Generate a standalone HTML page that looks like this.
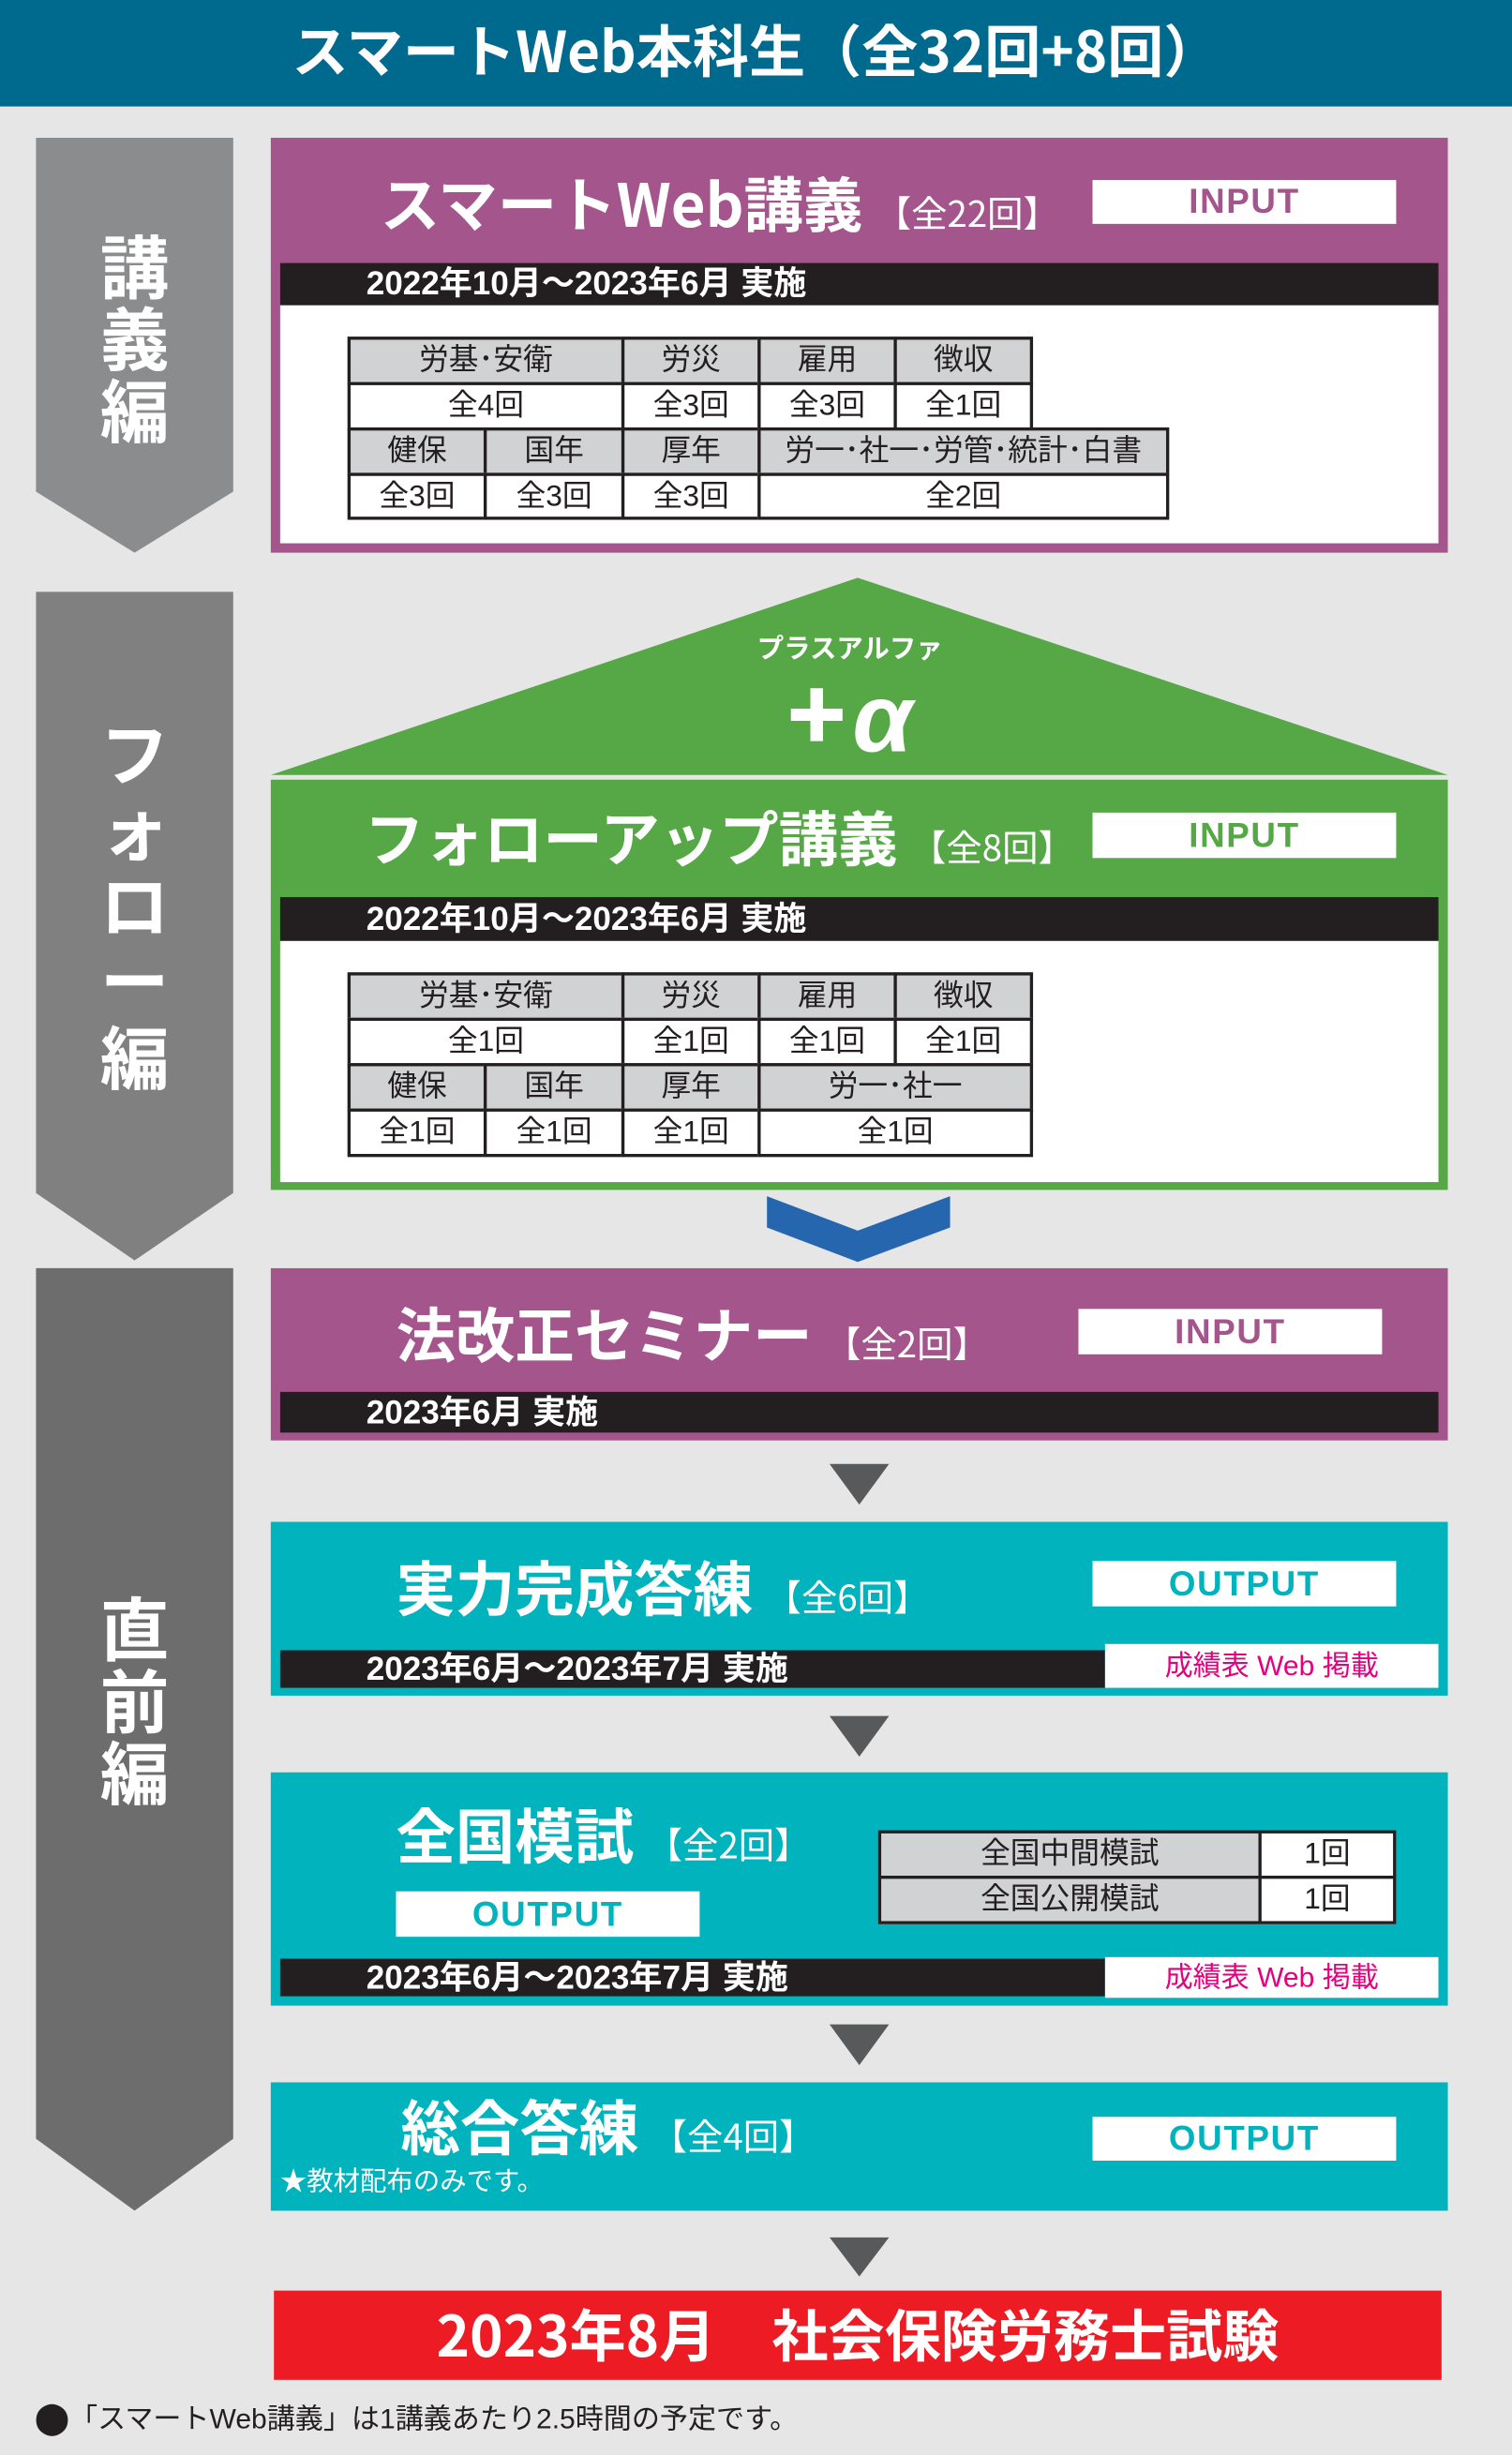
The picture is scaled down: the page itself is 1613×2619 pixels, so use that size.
<!DOCTYPE html>
<html><head><meta charset="utf-8">
<style>
html,body{margin:0;padding:0;}
body{width:1613px;height:2619px;overflow:hidden;background:#e6e6e6;font-family:"Liberation Sans","Noto Sans CJK JP",sans-serif;}
#w{position:absolute;left:0;top:0;width:966px;height:1568px;transform:scale(1.66977,1.67028);transform-origin:0 0;}
.a{position:absolute;}
.c{position:absolute;box-sizing:border-box;border:2px solid #231f20;display:flex;align-items:center;justify-content:center;font-size:19px;color:#231f20;white-space:nowrap;line-height:1;}
.g{background:#d1d2d4;}.wh{background:#fff;}
.ttl{position:absolute;color:#fff;font-weight:bold;white-space:nowrap;line-height:1;font-family:"Noto Sans CJK JP",sans-serif;}
.ttl small{font-size:23px;font-weight:normal;margin-left:8px;}
.tag{position:absolute;background:#fff;display:flex;align-items:center;justify-content:center;font-weight:bold;font-size:22px;line-height:1;letter-spacing:1px;}
.bar{position:absolute;background:#231f20;color:#fff;font-weight:bold;font-size:21px;line-height:1;display:flex;align-items:center;white-space:nowrap;}
.pk{position:absolute;background:#fff;color:#e5007f;font-size:18px;display:flex;align-items:center;justify-content:center;line-height:1;}
.vt{position:absolute;color:#fff;font-weight:bold;font-size:44px;line-height:1.05;width:60px;text-align:center;font-family:"Noto Sans CJK JP",sans-serif;}
</style></head><body><div id="w">
<div class="a" style="left:0;top:0;width:966px;height:68px;background:#006a8e;"></div>
<div class="ttl" style="left:0;width:966px;top:13px;text-align:center;font-size:36px;">スマートWeb本科生（全32回+8回）</div>

<svg class="a" style="left:0;top:0" width="966" height="1568">
<polygon points="23,88 149,88 149,314 86,353 23,314" fill="#8b8c8e"/>
<polygon points="23,378 149,378 149,762 86,805 23,762" fill="#808080"/>
<polygon points="23,810 149,810 149,1366 86,1412 23,1366" fill="#6d6d6d"/>
<polygon points="173,495 548,369 925,495" fill="#55a845"/>
<polygon points="490,764 548,786 607,764 607,784 548,806 490,784" fill="#2566ae"/>
<polygon points="530,935 568,935 549,961" fill="#58595b"/>
<polygon points="530,1096 568,1096 549,1122" fill="#58595b"/>
<polygon points="530,1293 568,1293 549,1319" fill="#58595b"/>
<polygon points="530,1429 568,1429 549,1454" fill="#58595b"/>
</svg>
<div class="vt" style="left:56px;top:145px;">講<br>義<br>編</div>
<div class="vt" style="left:56px;top:455px;line-height:1.1;">フ<br>ォ<br>ロ<br>ー<br>編</div>
<div class="vt" style="left:56px;top:1015px;">直<br>前<br>編</div>

<div class="a" style="left:173px;top:88px;width:752px;height:265px;background:#a3558c;"></div>
<div class="ttl" style="left:243px;top:110px;font-size:38px;">スマートWeb講義<small>【全22回】</small></div>
<div class="tag" style="left:698px;top:115px;width:194px;height:28px;color:#a3558c;">INPUT</div>
<div class="bar" style="left:179px;top:168px;width:740px;height:27px;"><span style="margin-left:55px">2022年10月～2023年6月 実施</span></div>
<div class="a" style="left:179px;top:195px;width:740px;height:152px;background:#fff;"></div>
<div class="c g" style="left:222px;top:215px;width:177px;height:31px;">労基･安衛</div>
<div class="c g" style="left:397px;top:215px;width:89px;height:31px;">労災</div>
<div class="c g" style="left:484px;top:215px;width:89px;height:31px;">雇用</div>
<div class="c g" style="left:571px;top:215px;width:89px;height:31px;">徴収</div>
<div class="c wh" style="left:222px;top:244px;width:177px;height:31px;">全4回</div>
<div class="c wh" style="left:397px;top:244px;width:89px;height:31px;">全3回</div>
<div class="c wh" style="left:484px;top:244px;width:89px;height:31px;">全3回</div>
<div class="c wh" style="left:571px;top:244px;width:89px;height:31px;">全1回</div>
<div class="c g" style="left:222px;top:273px;width:89px;height:31px;">健保</div>
<div class="c g" style="left:309px;top:273px;width:90px;height:31px;">国年</div>
<div class="c g" style="left:397px;top:273px;width:89px;height:31px;">厚年</div>
<div class="c g" style="left:484px;top:273px;width:263px;height:31px;">労一･社一･労管･統計･白書</div>
<div class="c wh" style="left:222px;top:302px;width:89px;height:30px;">全3回</div>
<div class="c wh" style="left:309px;top:302px;width:90px;height:30px;">全3回</div>
<div class="c wh" style="left:397px;top:302px;width:89px;height:30px;">全3回</div>
<div class="c wh" style="left:484px;top:302px;width:263px;height:30px;">全2回</div>

<div class="ttl" style="left:443px;width:200px;text-align:center;top:404px;font-size:17px;">プラスアルファ</div>
<div class="ttl" style="left:443px;width:200px;text-align:center;top:422px;font-size:62px;"><span style="font-weight:900;">+</span><span style="font-style:italic;font-family:'Liberation Sans',sans-serif;margin-left:4px;">α</span></div>

<div class="a" style="left:173px;top:498px;width:752px;height:262px;background:#55a845;"></div>
<div class="ttl" style="left:233px;top:515px;font-size:38px;">フォローアップ講義<small>【全8回】</small></div>
<div class="tag" style="left:698px;top:519px;width:194px;height:29px;color:#55a845;">INPUT</div>
<div class="bar" style="left:179px;top:573px;width:740px;height:28px;"><span style="margin-left:55px">2022年10月～2023年6月 実施</span></div>
<div class="a" style="left:179px;top:601px;width:740px;height:154px;background:#fff;"></div>
<div class="c g" style="left:222px;top:621px;width:177px;height:31px;">労基･安衛</div>
<div class="c g" style="left:397px;top:621px;width:89px;height:31px;">労災</div>
<div class="c g" style="left:484px;top:621px;width:89px;height:31px;">雇用</div>
<div class="c g" style="left:571px;top:621px;width:89px;height:31px;">徴収</div>
<div class="c wh" style="left:222px;top:650px;width:177px;height:31px;">全1回</div>
<div class="c wh" style="left:397px;top:650px;width:89px;height:31px;">全1回</div>
<div class="c wh" style="left:484px;top:650px;width:89px;height:31px;">全1回</div>
<div class="c wh" style="left:571px;top:650px;width:89px;height:31px;">全1回</div>
<div class="c g" style="left:222px;top:679px;width:89px;height:31px;">健保</div>
<div class="c g" style="left:309px;top:679px;width:90px;height:31px;">国年</div>
<div class="c g" style="left:397px;top:679px;width:89px;height:31px;">厚年</div>
<div class="c g" style="left:484px;top:679px;width:176px;height:31px;">労一･社一</div>
<div class="c wh" style="left:222px;top:708px;width:89px;height:31px;">全1回</div>
<div class="c wh" style="left:309px;top:708px;width:90px;height:31px;">全1回</div>
<div class="c wh" style="left:397px;top:708px;width:89px;height:31px;">全1回</div>
<div class="c wh" style="left:484px;top:708px;width:176px;height:31px;">全1回</div>

<div class="a" style="left:173px;top:810px;width:752px;height:110px;background:#a3558c;"></div>
<div class="ttl" style="left:253px;top:832px;font-size:38px;">法改正セミナー<small>【全2回】</small></div>
<div class="tag" style="left:689px;top:836px;width:194px;height:29px;color:#a3558c;">INPUT</div>
<div class="bar" style="left:179px;top:889px;width:740px;height:26px;"><span style="margin-left:55px">2023年6月 実施</span></div>

<div class="a" style="left:173px;top:972px;width:752px;height:111px;background:#00b3bd;"></div>
<div class="ttl" style="left:253px;top:994px;font-size:38px;">実力完成答練<small>【全6回】</small></div>
<div class="tag" style="left:698px;top:997px;width:194px;height:29px;color:#00b3bd;">OUTPUT</div>
<div class="bar" style="left:179px;top:1054px;width:527px;height:24px;"><span style="margin-left:55px">2023年6月～2023年7月 実施</span></div>
<div class="pk" style="left:706px;top:1050px;width:213px;height:28px;">成績表 Web 掲載</div>

<div class="a" style="left:173px;top:1132px;width:752px;height:149px;background:#00b3bd;"></div>
<div class="ttl" style="left:253px;top:1152px;font-size:38px;">全国模試<small>【全2回】</small></div>
<div class="tag" style="left:253px;top:1208px;width:194px;height:29px;color:#00b3bd;">OUTPUT</div>
<div class="c g" style="left:561px;top:1169px;width:245px;height:31px;">全国中間模試</div>
<div class="c wh" style="left:804px;top:1169px;width:88px;height:31px;">1回</div>
<div class="c g" style="left:561px;top:1198px;width:245px;height:31px;">全国公開模試</div>
<div class="c wh" style="left:804px;top:1198px;width:88px;height:31px;">1回</div>
<div class="bar" style="left:179px;top:1251px;width:527px;height:24px;"><span style="margin-left:55px">2023年6月～2023年7月 実施</span></div>
<div class="pk" style="left:706px;top:1250px;width:213px;height:26px;">成績表 Web 掲載</div>

<div class="a" style="left:173px;top:1330px;width:752px;height:82px;background:#00b3bd;"></div>
<div class="ttl" style="left:256px;top:1338px;font-size:38px;">総合答練<small>【全4回】</small></div>
<div class="tag" style="left:698px;top:1352px;width:194px;height:28px;color:#00b3bd;">OUTPUT</div>
<div class="a" style="left:179px;top:1385px;color:#fff;font-size:17px;line-height:1;white-space:nowrap;">★教材配布のみです。</div>

<div class="a" style="left:175px;top:1463px;width:746px;height:57px;background:#ed1c24;"></div>
<div class="ttl" style="left:175px;width:746px;top:1472px;text-align:center;font-size:36px;">2023年8月　社会保険労務士試験</div>

<div class="a" style="left:22px;top:1535px;font-size:18px;color:#231f20;line-height:1;white-space:nowrap;"><span style="font-size:20px;">⬤</span>「スマートWeb講義」は1講義あたり2.5時間の予定です。</div>
</div></body></html>
